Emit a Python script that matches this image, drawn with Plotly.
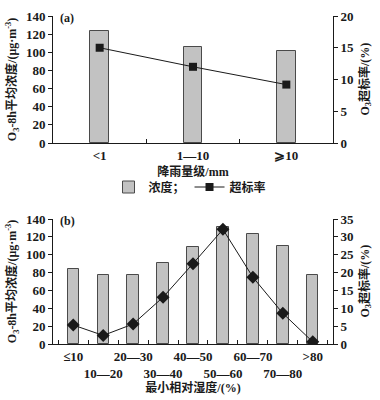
import plotly.graph_objects as go

# Panel (a)
rain_cats = ["<1", "1—10", "⩾10"]
rain_conc = [124, 106, 101]
rain_rate = [15.0, 12.0, 9.2]

# Panel (b)
hum_cats = ["≤10", "10—20", "20—30", "30—40", "40—50", "50—60", "60—70", "70—80", ">80"]
hum_conc = [84, 77, 77, 91, 109, 131, 123, 110, 77]
hum_rate = [5.3, 2.4, 5.6, 13.1, 22.5, 32.1, 18.7, 8.6, 0.6]

FONT = "Liberation Serif, Noto Sans CJK SC, serif"
BAR_FILL = "#c2c2c2"
BAR_LINE = "#4a4a4a"
INK = "#1a1a1a"

fig = go.Figure()

fig.add_trace(go.Bar(x=rain_cats, y=rain_conc, name="浓度；", width=0.2,
                     marker=dict(color=BAR_FILL, line=dict(color=BAR_LINE, width=1)),
                     xaxis="x", yaxis="y"))
fig.add_trace(go.Scatter(x=rain_cats, y=rain_rate, name="超标率", mode="lines+markers",
                         line=dict(color=INK, width=1),
                         marker=dict(symbol="square", size=8, color=INK),
                         xaxis="x", yaxis="y2"))

hum_ticktext = [c if i % 2 == 0 else "<br>" + c for i, c in enumerate(hum_cats)]

fig.add_trace(go.Bar(x=hum_cats, y=hum_conc, name="浓度", width=0.38, showlegend=False,
                     marker=dict(color=BAR_FILL, line=dict(color=BAR_LINE, width=1)),
                     xaxis="x2", yaxis="y3"))
fig.add_trace(go.Scatter(x=hum_cats, y=hum_rate, name="超标率", mode="lines+markers",
                         showlegend=False,
                         line=dict(color=INK, width=1),
                         marker=dict(symbol="diamond", size=10, color=INK),
                         xaxis="x2", yaxis="y4"))

xdom = [53 / 380, 333 / 380]
ya = [(400 - 143) / 400, (400 - 16) / 400]
yb = [(400 - 344) / 400, (400 - 219) / 400]

tickfont = dict(family=FONT, size=13, color=INK, weight="bold")
axis_common = dict(showline=True, linecolor=INK, linewidth=1, showgrid=False,
                   zeroline=False, tickfont=tickfont, tickcolor=INK, automargin=False)

ytitle = "O<sub>3</sub>-8h平均浓度/(μg·m<sup>-3</sup>)"
title_font = dict(family=FONT, size=12, color=INK, weight="bold")

fig.update_layout(
    width=380, height=400,
    margin=dict(l=0, r=0, t=0, b=0),
    paper_bgcolor="white", plot_bgcolor="white",
    font=dict(family=FONT, color=INK),
    showlegend=True,
    legend=dict(orientation="h", x=0.5, xanchor="center", y=(400 - 187) / 400, yanchor="middle",
                font=dict(family=FONT, size=12, color=INK, weight="bold"),
                bgcolor="rgba(0,0,0,0)"),
    xaxis=dict(domain=xdom, anchor="y", type="category", ticks="inside", ticklen=4,
               tickson="boundaries", tickangle=0, **axis_common,
               title=dict(text="降雨量级/mm", font=dict(family=FONT, size=12, weight="bold"), standoff=6)),
    yaxis=dict(domain=ya, anchor="x", range=[0, 140], dtick=20, ticks="outside", ticklen=4,
               **axis_common,
               title=dict(text=ytitle, font=title_font, standoff=6)),
    yaxis2=dict(overlaying="y", side="right", anchor="x", range=[0, 20], dtick=5,
                ticks="outside", ticklen=4, **axis_common),
    xaxis2=dict(domain=xdom, anchor="y3", type="category", ticks="inside", ticklen=4,
                tickson="boundaries", tickvals=hum_cats, ticktext=hum_ticktext, tickangle=0,
                **axis_common,
                title=dict(text="最小相对湿度/(%)", font=dict(family=FONT, size=12, weight="bold"), standoff=2)),
    yaxis3=dict(domain=yb, anchor="x2", range=[0, 140], dtick=20, ticks="outside", ticklen=4,
                **axis_common,
                title=dict(text=ytitle, font=title_font, standoff=6)),
    yaxis4=dict(overlaying="y3", side="right", anchor="x2", range=[0, 35], dtick=5,
                ticks="outside", ticklen=4, **axis_common),
    bargap=0,
)

fig.add_annotation(text="<b>(a)</b>", xref="paper", yref="paper", x=58 / 380, y=(400 - 18) / 400,
                   xanchor="left", yanchor="middle", showarrow=False,
                   font=dict(family=FONT, size=12, color=INK))
fig.add_annotation(text="<b>(b)</b>", xref="paper", yref="paper", x=58 / 380, y=(400 - 221) / 400,
                   xanchor="left", yanchor="middle", showarrow=False,
                   font=dict(family=FONT, size=12, color=INK))
for dom in (ya, yb):
    fig.add_annotation(text="<b>O<sub>3</sub>超标率/(%)</b>", xref="paper", yref="paper",
                       x=365 / 380, y=sum(dom) / 2, textangle=-90, showarrow=False,
                       xanchor="center", yanchor="middle",
                       font=dict(family=FONT, size=12, color=INK))

fig.write_html("out.html", config={"displayModeBar": False},
               post_script="document.body.style.margin='0';")
